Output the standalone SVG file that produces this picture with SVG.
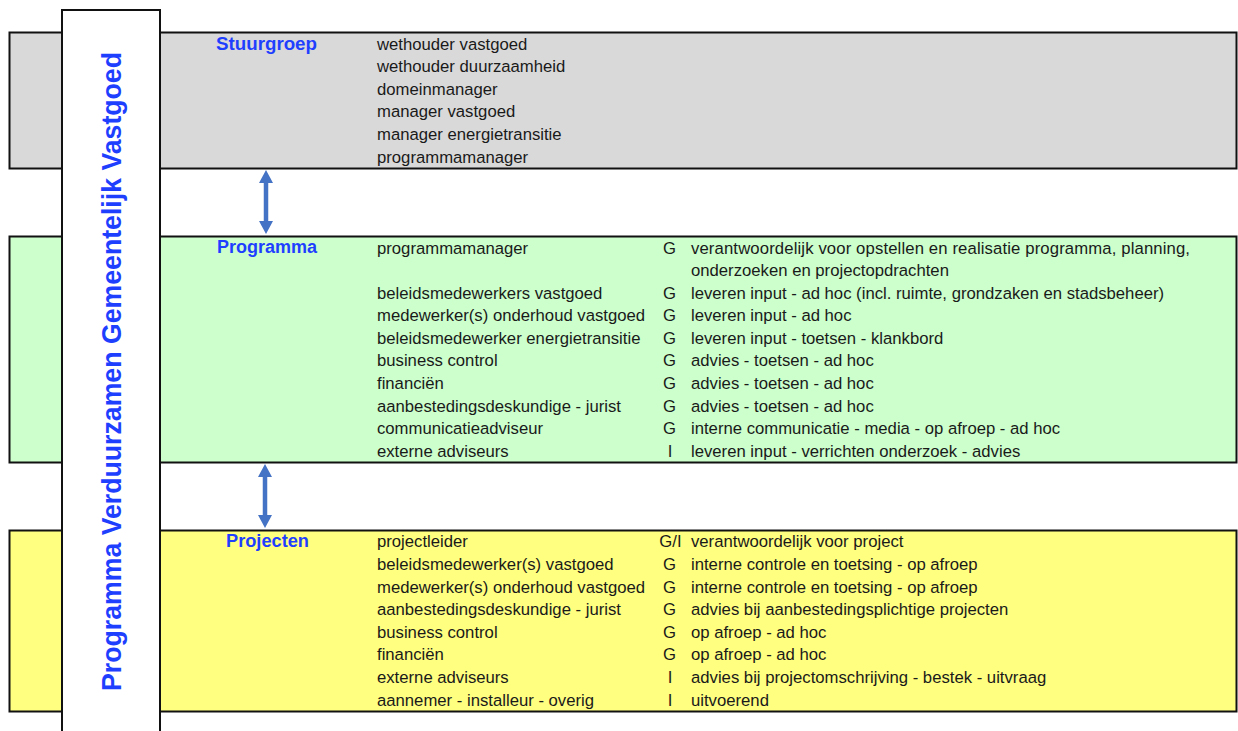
<svg xmlns="http://www.w3.org/2000/svg" width="1238" height="731" viewBox="0 0 1238 731">
<style>
.band{stroke:#111;stroke-width:2}
.t{font-family:"Liberation Sans",Arial,sans-serif;font-size:16.7px;fill:#1a1a1a}
.c{text-anchor:middle}
.lbl{font-family:"Liberation Sans",Arial,sans-serif;font-size:18px;font-weight:bold;fill:#1f3fff;text-anchor:middle}
.title{font-family:"Liberation Sans",Arial,sans-serif;font-size:27.5px;font-weight:bold;fill:#1f3fff}
.conn{stroke:#4472c4;stroke-width:4.5;fill:none}
</style>
<defs>
<marker id="ah" markerUnits="userSpaceOnUse" markerWidth="13" markerHeight="14" refX="1" refY="7" orient="auto-start-reverse">
<path d="M0,0 L13,7 L0,14 z" fill="#4472c4"/>
</marker>
</defs>
<rect width="1238" height="731" fill="#fff"/>

<g id="stuurgroep">
<rect class="band" x="9.5" y="32.5" width="1227" height="136" fill="#d9d9d9"/>
<text class="lbl" x="266.5" y="50" textLength="101" lengthAdjust="spacingAndGlyphs">Stuurgroep</text>
<text class="t" x="377" y="49.5">wethouder vastgoed</text>
<text class="t" x="377" y="72">wethouder duurzaamheid</text>
<text class="t" x="377" y="94.7">domeinmanager</text>
<text class="t" x="377" y="117.3">manager vastgoed</text>
<text class="t" x="377" y="140">manager energietransitie</text>
<text class="t" x="377" y="162.5">programmamanager</text>
</g>

<g id="programma">
<rect class="band" x="9.5" y="236.5" width="1227" height="226" fill="#ccffcc"/>
<text class="lbl" x="267" y="253.3" textLength="100" lengthAdjust="spacingAndGlyphs">Programma</text>
<text class="t" x="377" y="253.5">programmamanager</text>
<text class="t c" x="669.5" y="253.5">G</text>
<text class="t" x="691" y="253.5" textLength="499" lengthAdjust="spacing">verantwoordelijk voor opstellen en realisatie programma, planning,</text>
<text class="t" x="691" y="276">onderzoeken en projectopdrachten</text>
<text class="t" x="377" y="298.6">beleidsmedewerkers vastgoed</text>
<text class="t c" x="669.5" y="298.6">G</text>
<text class="t" x="691" y="298.6">leveren input - ad hoc (incl. ruimte, grondzaken en stadsbeheer)</text>
<text class="t" x="377" y="321.2">medewerker(s) onderhoud vastgoed</text>
<text class="t c" x="669.5" y="321.2">G</text>
<text class="t" x="691" y="321.2">leveren input - ad hoc</text>
<text class="t" x="377" y="343.8">beleidsmedewerker energietransitie</text>
<text class="t c" x="669.5" y="343.8">G</text>
<text class="t" x="691" y="343.8">leveren input - toetsen - klankbord</text>
<text class="t" x="377" y="366.4">business control</text>
<text class="t c" x="669.5" y="366.4">G</text>
<text class="t" x="691" y="366.4">advies - toetsen - ad hoc</text>
<text class="t" x="377" y="389">financiën</text>
<text class="t c" x="669.5" y="389">G</text>
<text class="t" x="691" y="389">advies - toetsen - ad hoc</text>
<text class="t" x="377" y="411.6">aanbestedingsdeskundige - jurist</text>
<text class="t c" x="669.5" y="411.6">G</text>
<text class="t" x="691" y="411.6">advies - toetsen - ad hoc</text>
<text class="t" x="377" y="434.2">communicatieadviseur</text>
<text class="t c" x="669.5" y="434.2">G</text>
<text class="t" x="691" y="434.2">interne communicatie - media - op afroep - ad hoc</text>
<text class="t" x="377" y="456.8">externe adviseurs</text>
<text class="t c" x="670" y="456.8">I</text>
<text class="t" x="691" y="456.8">leveren input - verrichten onderzoek - advies</text>
</g>

<g id="projecten">
<rect class="band" x="9.5" y="530.5" width="1227" height="181" fill="#ffff80"/>
<text class="lbl" x="267.5" y="547.3" textLength="83" lengthAdjust="spacingAndGlyphs">Projecten</text>
<text class="t" x="377" y="547.3">projectleider</text>
<text class="t c" x="670.5" y="547.3">G/I</text>
<text class="t" x="691" y="547.3">verantwoordelijk voor project</text>
<text class="t" x="377" y="569.9">beleidsmedewerker(s) vastgoed</text>
<text class="t c" x="669.5" y="569.9">G</text>
<text class="t" x="691" y="569.9">interne controle en toetsing - op afroep</text>
<text class="t" x="377" y="592.5">medewerker(s) onderhoud vastgoed</text>
<text class="t c" x="669.5" y="592.5">G</text>
<text class="t" x="691" y="592.5">interne controle en toetsing - op afroep</text>
<text class="t" x="377" y="615.1">aanbestedingsdeskundige - jurist</text>
<text class="t c" x="669.5" y="615.1">G</text>
<text class="t" x="691" y="615.1">advies bij aanbestedingsplichtige projecten</text>
<text class="t" x="377" y="637.7">business control</text>
<text class="t c" x="669.5" y="637.7">G</text>
<text class="t" x="691" y="637.7">op afroep - ad hoc</text>
<text class="t" x="377" y="660.3">financiën</text>
<text class="t c" x="669.5" y="660.3">G</text>
<text class="t" x="691" y="660.3">op afroep - ad hoc</text>
<text class="t" x="377" y="682.9">externe adviseurs</text>
<text class="t c" x="670" y="682.9">I</text>
<text class="t" x="691" y="682.9">advies bij projectomschrijving - bestek - uitvraag</text>
<text class="t" x="377" y="705.5">aannemer - installeur - overig</text>
<text class="t c" x="670" y="705.5">I</text>
<text class="t" x="691" y="705.5">uitvoerend</text>
</g>

<g id="programma-titel">
<rect x="62" y="10" width="98" height="740" fill="#fff" stroke="#111" stroke-width="2"/>
<text class="title" transform="translate(121,691) rotate(-90)" textLength="639" lengthAdjust="spacingAndGlyphs">Programma Verduurzamen Gemeentelijk Vastgoed</text>
</g>

<g id="connectors">
<line class="conn" x1="266" y1="182" x2="266" y2="222" marker-start="url(#ah)" marker-end="url(#ah)"/>
<line class="conn" x1="265" y1="476" x2="265" y2="516" marker-start="url(#ah)" marker-end="url(#ah)"/>
</g>
</svg>
